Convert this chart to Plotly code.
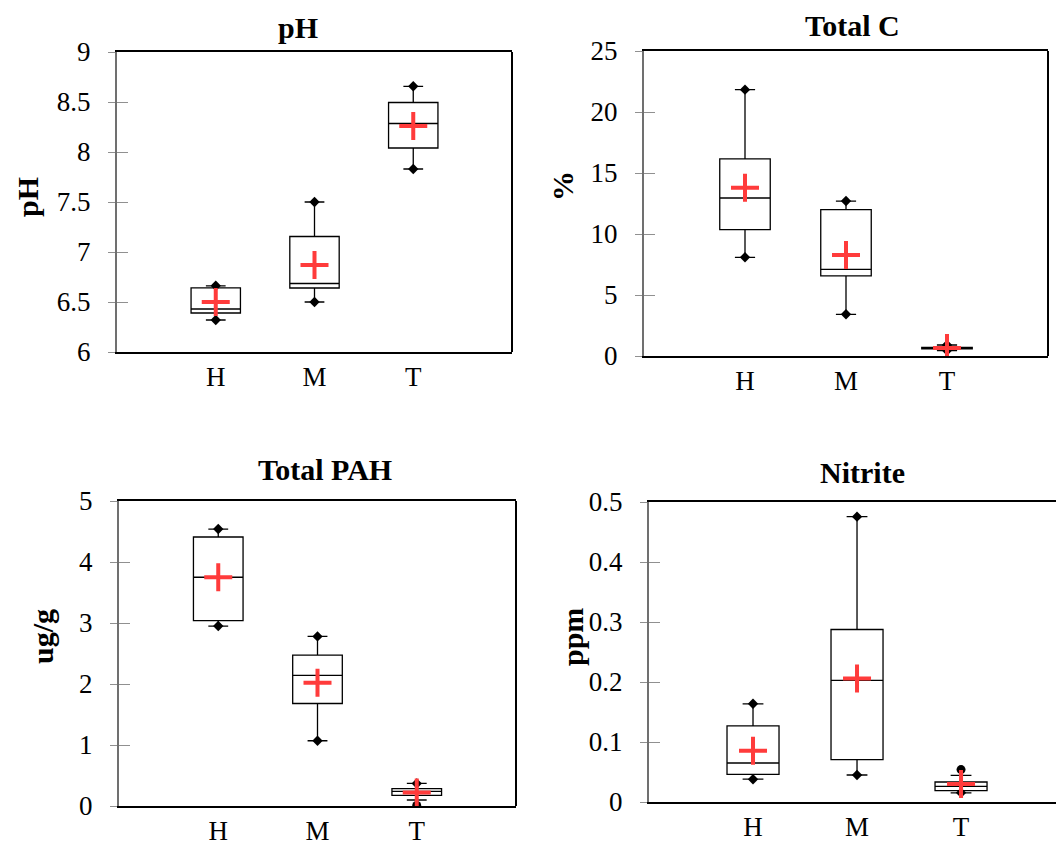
import plotly.graph_objects as go

W, H = 1056, 843

categories = ["H", "M", "T"]

# Per-panel box statistics (lower whisker, Q1, median, Q3, upper whisker, mean)
ph_low = [6.32, 6.50, 7.83]
ph_q1 = [6.39, 6.64, 8.04]
ph_med = [6.43, 6.685, 8.285]
ph_q3 = [6.642, 7.155, 8.495]
ph_high = [6.662, 7.50, 8.657]
ph_mean = [6.50, 6.87, 8.26]

tc_low = [8.09, 3.42, 0.45]
tc_q1 = [10.36, 6.56, 0.58]
tc_med = [12.95, 7.10, 0.63]
tc_q3 = [16.15, 12.00, 0.70]
tc_high = [21.83, 12.70, 0.90]
tc_mean = [13.80, 8.28, 0.65]

pah_low = [2.95, 1.07, 0.098]
pah_q1 = [3.04, 1.68, 0.175]
pah_med = [3.75, 2.14, 0.24]
pah_q3 = [4.41, 2.475, 0.284]
pah_high = [4.54, 2.78, 0.37]
pah_mean = [3.75, 2.02, 0.22]
pah_outliers_x = ["T"]
pah_outliers_y = [0.008]

no2_low = [0.038, 0.045, 0.0153]
no2_q1 = [0.046, 0.0705, 0.019]
no2_med = [0.065, 0.2026, 0.026]
no2_q3 = [0.127, 0.2875, 0.0333]
no2_high = [0.1637, 0.4756, 0.0444]
no2_mean = [0.0855, 0.206, 0.030]
no2_outliers_x = ["T"]
no2_outliers_y = [0.054]

titles = ["pH", "Total C", "Total PAH", "Nitrite"]
units = ["pH", "%", "ug/g", "ppm"]
y_ranges = [[6, 9], [0, 25], [0, 5], [0, 0.5]]
y_dticks = [0.5, 5, 1, 0.1]

panels = [
    dict(low=ph_low, q1=ph_q1, med=ph_med, q3=ph_q3, high=ph_high, mean=ph_mean, ox=[], oy=[]),
    dict(low=tc_low, q1=tc_q1, med=tc_med, q3=tc_q3, high=tc_high, mean=tc_mean, ox=[], oy=[]),
    dict(low=pah_low, q1=pah_q1, med=pah_med, q3=pah_q3, high=pah_high, mean=pah_mean,
         ox=pah_outliers_x, oy=pah_outliers_y),
    dict(low=no2_low, q1=no2_q1, med=no2_med, q3=no2_q3, high=no2_high, mean=no2_mean,
         ox=no2_outliers_x, oy=no2_outliers_y),
]

# Plot-area rectangles in pixels: left, right, top, bottom
boxes_px = [(117, 512, 52, 352), (644, 1048, 51, 356), (119, 516, 501, 806), (649, 1056, 502, 802)]
x_ranges = [[-1, 3], [-1, 3], [-1, 3], [-1, 2.913]]
title_pos = [(298, 27), (852, 25), (325, 469), (862, 472)]
ytitle_pos = [(27, 197), (563, 186), (42, 637), (572, 637)]

SERIF = "Liberation Serif"
fig = go.Figure()
layout = dict(width=W, height=H, margin=dict(l=0, r=0, t=0, b=0, autoexpand=False),
              paper_bgcolor="white", plot_bgcolor="white", showlegend=False,
              font=dict(family=SERIF, size=26, color="black"))
annotations = []
shapes = []

for i, p in enumerate(panels):
    n = i + 1
    sx = "" if n == 1 else str(n)
    xa, ya = "x" + sx, "y" + sx
    left, right, top, bottom = boxes_px[i]

    fig.add_trace(go.Box(
        x=categories, q1=p["q1"], median=p["med"], q3=p["q3"],
        lowerfence=p["low"], upperfence=p["high"],
        boxpoints=False, width=0.5, whiskerwidth=0.4,
        fillcolor="white", line=dict(color="black", width=1.3),
        xaxis=xa, yaxis=ya, hoverinfo="skip"))

    # whisker-end markers, skipped on a side that has an outlier beyond it
    dx, dy = [], []
    for c, lo, hi in zip(categories, p["low"], p["high"]):
        outs = [v for ox, v in zip(p["ox"], p["oy"]) if ox == c]
        if not any(v > hi for v in outs):
            dx.append(c); dy.append(hi)
        if not any(v < lo for v in outs):
            dx.append(c); dy.append(lo)
    fig.add_trace(go.Scatter(x=dx, y=dy, mode="markers", xaxis=xa, yaxis=ya,
                             marker=dict(symbol="diamond", size=8, color="black"),
                             hoverinfo="skip"))
    if p["ox"]:
        fig.add_trace(go.Scatter(x=p["ox"], y=p["oy"], mode="markers", xaxis=xa, yaxis=ya,
                                 marker=dict(symbol="circle", size=9, color="black"),
                                 hoverinfo="skip"))
    # means
    fig.add_trace(go.Scatter(x=categories, y=p["mean"], mode="markers", xaxis=xa, yaxis=ya,
                             marker=dict(symbol="cross-thin", size=20,
                                         line=dict(color="#FF3B3B", width=4)),
                             hoverinfo="skip"))

    xdom = [left / W, right / W]
    ydom = [1 - bottom / H, 1 - top / H]
    layout["xaxis" + sx] = dict(
        domain=xdom, anchor=ya, type="category", categoryorder="array",
        categoryarray=categories, range=x_ranges[i], showgrid=False, zeroline=False,
        showline=True, linecolor="black", linewidth=2, mirror=True, ticks="",
        automargin=False,
        tickfont=dict(family=SERIF, size=27), ticklabelstandoff=0, fixedrange=True)
    layout["yaxis" + sx] = dict(
        domain=ydom, anchor=xa, range=y_ranges[i], dtick=y_dticks[i], tick0=0,
        showgrid=False, zeroline=False, showline=True, linecolor="#707070", linewidth=2,
        ticks="outside", ticklen=7, tickwidth=1, tickcolor="#909090", automargin=False,
        tickfont=dict(family=SERIF, size=27), ticklabelstandoff=12, fixedrange=True)

    # inner tick marks on an overlaid axis
    on = n + 4
    layout["yaxis" + str(on)] = dict(
        domain=ydom, anchor=xa, overlaying=ya, side="left", range=y_ranges[i],
        dtick=y_dticks[i], tick0=0, showgrid=False, zeroline=False, showline=False,
        ticks="inside", ticklen=11, tickwidth=1, tickcolor="#909090", automargin=False,
        showticklabels=False, fixedrange=True)
    fig.add_trace(go.Scatter(x=[None], y=[None], xaxis=xa, yaxis="y" + str(on),
                             mode="markers", hoverinfo="skip"))

    # right-hand frame edge
    if right < W:
        shapes.append(dict(type="line", xref=xa + " domain", yref=ya + " domain",
                           x0=1, x1=1, y0=0, y1=1, layer="below",
                           line=dict(color="black", width=2)))

    tx, ty = title_pos[i]
    annotations.append(dict(text="<b>%s</b>" % titles[i], x=tx / W, y=1 - ty / H,
                            xref="paper", yref="paper", showarrow=False,
                            xanchor="center", yanchor="middle",
                            font=dict(family=SERIF, size=30, color="black")))
    ux, uy = ytitle_pos[i]
    annotations.append(dict(text="<b>%s</b>" % units[i], x=ux / W, y=1 - uy / H,
                            xref="paper", yref="paper", showarrow=False, textangle=-90,
                            xanchor="center", yanchor="middle",
                            font=dict(family=SERIF, size=30, color="black")))

layout["annotations"] = annotations
layout["shapes"] = shapes
fig.update_layout(**layout)
fig.write_html("out.html")
